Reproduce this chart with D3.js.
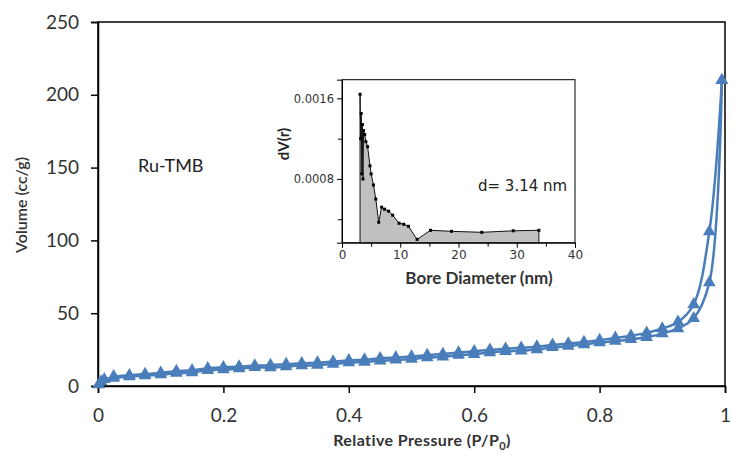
<!DOCTYPE html>
<html>
<head>
<meta charset="utf-8">
<script src="https://cdn.jsdelivr.net/npm/d3@7"></script>
<style>
  body { margin: 0; background: #fff; }
  svg { display: block; }
</style>
</head>
<body>
<div id="chart-area"></div>
<script>
// Isotherm data (P/P0 vs volume cc/g)
const adsX = [0.001, 0.005, 0.01, 0.025, 0.05, 0.075, 0.1, 0.125, 0.15, 0.175, 0.2, 0.225, 0.25, 0.275, 0.3, 0.325, 0.35, 0.375, 0.4, 0.425, 0.45, 0.475, 0.5, 0.525, 0.55, 0.575, 0.6, 0.625, 0.65, 0.675, 0.7, 0.725, 0.75, 0.775, 0.8, 0.825, 0.85, 0.875, 0.9, 0.925, 0.95, 0.975, 0.995];
const adsY = [1, 3, 4.5, 5.5, 6.5, 7.2, 7.8, 8.8, 9.3, 10.8, 11.3, 11.9, 12.8, 12.7, 13.4, 14.0, 14.3, 15.1, 16.0, 16.5, 17.3, 17.9, 18.5, 19.5, 20.1, 21.2, 21.8, 23.0, 23.8, 24.2, 25.0, 26.5, 27.4, 28.5, 29.8, 30.8, 32.0, 33.5, 36.0, 39.5, 46.5, 71, 210];

const desX = [0.995, 0.975, 0.95, 0.925, 0.9, 0.875, 0.85, 0.825, 0.8, 0.775, 0.75, 0.725, 0.7, 0.675, 0.65, 0.625, 0.6, 0.575, 0.55, 0.525, 0.5, 0.475, 0.45, 0.425, 0.4, 0.375, 0.35, 0.325, 0.3, 0.275, 0.25, 0.225, 0.2, 0.175, 0.15, 0.125, 0.1, 0.075, 0.05, 0.025];
const desY = [210, 106, 56, 44, 39.5, 36.5, 34.5, 33, 31.5, 30.2, 29.2, 28.2, 27.0, 26.2, 25.6, 24.8, 23.8, 23.0, 22.0, 21.2, 20.2, 19.6, 19.0, 18.1, 17.6, 16.8, 16.0, 15.6, 15.0, 14.3, 14.0, 13.3, 12.8, 12.2, 10.8, 10.2, 9.0, 8.2, 7.4, 6.6];

const xTicks = [0, 0.2, 0.4, 0.6, 0.8, 1];
const yTicks = [0, 50, 100, 150, 200, 250];

// Pore size distribution (inset)
const poreD = [3.1, 3.2, 3.3, 3.4, 3.5, 3.6, 3.7, 3.9, 4.1, 4.4, 4.8, 5.0, 5.4, 5.8, 6.3, 6.8, 7.3, 8.0, 8.7, 9.8, 10.6, 11.4, 12.9, 15.2, 18.8, 24.0, 29.4, 33.8];
const poreV = [0.00164, 0.00120, 0.00145, 0.00085, 0.00134, 0.00080, 0.00128, 0.00124, 0.00117, 0.00112, 0.00093, 0.00085, 0.00074, 0.00060, 0.00037, 0.00052, 0.00050, 0.00048, 0.00044, 0.00036, 0.00035, 0.00033, 0.00020, 0.00029, 0.00028, 0.00027, 0.000285, 0.00029];

const insetXTicks = [0, 10, 20, 30, 40];
const insetXMinor = [5, 15, 25, 35];
const insetYTicks = [0.0008, 0.0016];
const insetYMinor = [0.0004, 0.0012];

const blue = "#4a7ebb";
const W = 732, H = 461;

let svg = d3.select("#chart-area").append("svg")
  .attr("width", W).attr("height", H);

let x = d3.scaleLinear().domain([0, 1]).range([98, 725]);
let y = d3.scaleLinear().domain([0, 250]).range([386, 22]);

// Plot frame
svg.append("rect")
  .attr("x", x(0)).attr("y", y(250))
  .attr("width", x(1) - x(0)).attr("height", y(0) - y(250))
  .attr("fill", "none").attr("stroke", "#000").attr("stroke-width", 1.5);

let xAxis = svg.append("g")
  .attr("transform", "translate(0," + y(0) + ")")
  .call(d3.axisBottom(x).tickValues(xTicks).tickSize(7).tickPadding(16).tickFormat(d3.format("")));
let yAxis = svg.append("g")
  .attr("transform", "translate(" + x(0) + ",0)")
  .call(d3.axisLeft(y).tickValues(yTicks).tickSize(7).tickPadding(12));

[xAxis, yAxis].forEach(g => {
  g.select(".domain").attr("stroke", "#000").attr("stroke-width", 1.5);
  g.selectAll(".tick line").attr("stroke", "#000").attr("stroke-width", 1.5);
  g.selectAll(".tick text")
    .attr("fill", "#333")
    .style("font-family", "Lato, 'Open Sans', sans-serif")
    .style("font-size", "19px");
});

// Axis labels
svg.append("text")
  .attr("transform", "translate(27,205) rotate(-90)")
  .attr("text-anchor", "middle")
  .style("font-family", "Lato, sans-serif")
  .style("font-size", "16px")
  .style("font-weight", "600")
  .attr("fill", "#333")
  .text("Volume (cc/g)");

let xl = svg.append("text")
  .attr("x", 422).attr("y", 446)
  .attr("text-anchor", "middle")
  .style("font-family", "Lato, sans-serif")
  .style("font-size", "16px")
  .style("font-weight", "700")
  .style("letter-spacing", "0.4px")
  .attr("fill", "#333");
xl.append("tspan").text("Relative Pressure (P/P");
xl.append("tspan").attr("dy", 4).style("font-size", "11px").text("0");
xl.append("tspan").attr("dy", -4).text(")");

svg.append("text")
  .attr("x", 138).attr("y", 172)
  .style("font-family", "Lato, sans-serif")
  .style("font-size", "18px")
  .attr("fill", "#222")
  .text("Ru-TMB");

// Isotherm lines
let line = d3.line()
  .x(d => x(d[0])).y(d => y(d[1]))
  .curve(d3.curveCatmullRom.alpha(0.5));

let ads = adsX.map((v, i) => [v, adsY[i]]);
let des = desX.map((v, i) => [v, desY[i]]);

[des, ads].forEach(s => {
  svg.append("path")
    .datum(s)
    .attr("d", line)
    .attr("fill", "none")
    .attr("stroke", blue)
    .attr("stroke-width", 2.5);
});

let tri = d3.symbol().type(d3.symbolTriangle).size(70);
[des, ads].forEach(s => {
  svg.append("g").selectAll("path")
    .data(s).enter().append("path")
    .attr("d", tri)
    .attr("transform", d => "translate(" + x(d[0]) + "," + y(d[1]) + ")")
    .attr("fill", blue);
});

// Inset: pore size distribution
let ix = d3.scaleLinear().domain([0, 40]).range([342, 575]);
let iy = d3.scaleLinear().domain([0.000167, 0.001785]).range([242.7, 79.7]);

svg.append("rect")
  .attr("x", ix(0)).attr("y", iy.range()[1])
  .attr("width", ix(40) - ix(0)).attr("height", iy.range()[0] - iy.range()[1])
  .attr("fill", "#fff").attr("stroke", "#000").attr("stroke-width", 1);

let pore = poreD.map((v, i) => [v, poreV[i]]);

svg.append("path")
  .datum(pore)
  .attr("d", d3.area().x(d => ix(d[0])).y0(iy.range()[0]).y1(d => iy(d[1])))
  .attr("fill", "#c0c0c0")
  .attr("stroke", "#111")
  .attr("stroke-width", 1);

svg.append("g").selectAll("rect")
  .data(pore).enter().append("rect")
  .attr("x", d => ix(d[0]) - 1.5).attr("y", d => iy(d[1]) - 1.5)
  .attr("width", 3).attr("height", 3)
  .attr("fill", "#000");

let ixAxis = svg.append("g")
  .attr("transform", "translate(0," + iy.range()[0] + ")")
  .call(d3.axisBottom(ix).tickValues(insetXTicks).tickSize(5).tickPadding(3));
svg.append("g")
  .attr("transform", "translate(0," + iy.range()[0] + ")")
  .call(d3.axisBottom(ix).tickValues(insetXMinor).tickSize(4).tickFormat(""))
  .select(".domain").remove();
let iyAxis = svg.append("g")
  .attr("transform", "translate(" + ix(0) + ",0)")
  .call(d3.axisLeft(iy).tickValues(insetYTicks).tickSize(5).tickPadding(3).tickFormat(d3.format(".4f")));
svg.append("g")
  .attr("transform", "translate(" + ix(0) + ",0)")
  .call(d3.axisLeft(iy).tickValues(insetYMinor).tickSize(4).tickFormat(""))
  .select(".domain").remove();

[ixAxis, iyAxis].forEach(g => {
  g.select(".domain").attr("stroke", "#000").attr("stroke-width", 1);
  g.selectAll(".tick text")
    .attr("fill", "#333")
    .style("font-family", "'DejaVu Sans', sans-serif")
    .style("font-size", "12px");
});
iyAxis.selectAll(".tick text").style("font-size", "11.5px");

svg.append("text")
  .attr("x", 479).attr("y", 284)
  .attr("text-anchor", "middle")
  .style("font-family", "Lato, sans-serif")
  .style("font-size", "17px")
  .style("font-weight", "700")
  .attr("fill", "#333")
  .text("Bore Diameter (nm)");

svg.append("text")
  .attr("transform", "translate(289,144) rotate(-90)")
  .attr("text-anchor", "middle")
  .style("font-family", "Lato, sans-serif")
  .style("font-size", "15px")
  .style("font-weight", "700")
  .attr("fill", "#222")
  .text("dV(r)");

svg.append("text")
  .attr("x", 478).attr("y", 191)
  .style("font-family", "'DejaVu Sans', sans-serif")
  .style("font-size", "15px")
  .attr("fill", "#222")
  .text("d= 3.14 nm");
</script>
</body>
</html>
